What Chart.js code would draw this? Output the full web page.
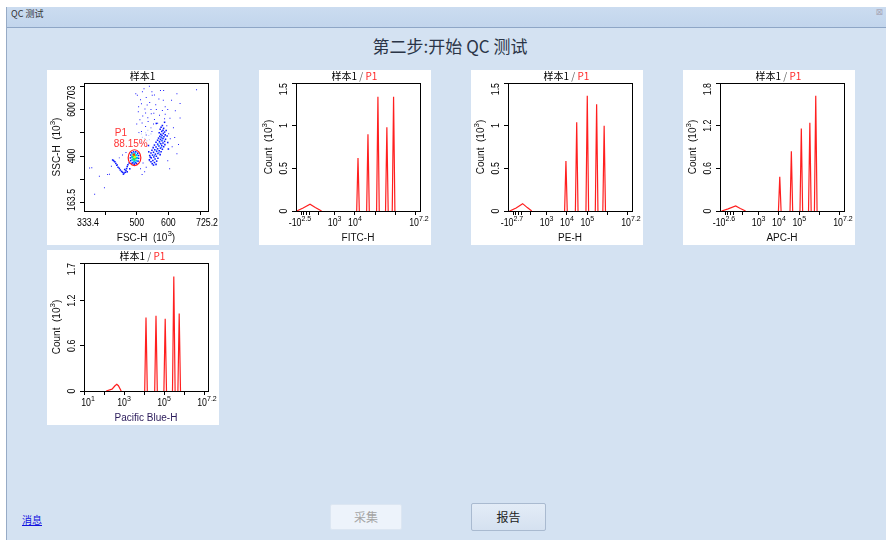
<!DOCTYPE html>
<html>
<head>
<meta charset="utf-8">
<script src="https://cdn.jsdelivr.net/npm/chart.js@4.4.1/dist/chart.umd.min.js"></script>
<style>
  body { margin: 0; width: 886px; height: 540px; background: #fff; position: relative; overflow: hidden; font-family: "Liberation Sans", "Noto Sans CJK SC", sans-serif; }
  #win { position: absolute; left: 6px; top: 7px; right: 0; bottom: 0; background: #d4e2f2; border-left: 1px solid #97abc6; }
  #bar { position: absolute; left: 0; right: 0; top: 0; height: 20px; background: linear-gradient(#cbdcf0, #c2d5ec); border-bottom: 1px solid #8ea6c6; }
  #bar .cap { position: absolute; left: 4px; top: 0; line-height: 20px; font: 9px "Noto Sans CJK SC"; color: #333; }
  #bar .x { position: absolute; right: 3px; top: 0; line-height: 20px; font: 9px "DejaVu Sans"; color: #aab; }
  #title { position: absolute; left: 450px; top: 35px; transform: translateX(-50%); font: 17px "Noto Sans CJK SC"; color: #2b3547; white-space: nowrap; line-height: 22px; }
  .panel { position: absolute; width: 172px; height: 175px; background: #fff; }
  .panel canvas { position: absolute; left: 0; top: 0; }
  .panel .t { position: absolute; left: 30px; width: 131px; top: 0; text-align: center; font: 10px "Noto Sans CJK SC"; line-height: 12px; color: #000; }
  .panel .t .s { color: #666; }
  .panel .t .g { color: #ff2a2a; }
  #msg { position: absolute; left: 22px; top: 512px; font: 10px "Noto Sans CJK SC"; color: #1010e0; text-decoration: underline; }
  .btn { position: absolute; box-sizing: border-box; text-align: center; font: 12px "Noto Sans CJK SC"; }
  #b1 { left: 330px; top: 504px; width: 72px; height: 26px; line-height: 24px; background: #edf3fb; border: 1px solid #dce6f2; color: #a4a4a4; border-radius: 2px; }
  #b2 { left: 471px; top: 503px; width: 75px; height: 28px; line-height: 26px; background: linear-gradient(#e3ecf7, #d5e1f0); border: 1px solid #a9bad0; color: #222; border-radius: 2px; }
</style>
</head>
<body>
<div id="win"><div id="bar"><span class="cap">QC 测试</span><span class="x">⊠</span></div></div>
<div id="title">第二步:开始 QC 测试</div>

<div class="panel" style="left:47px;top:70px"><canvas id="c0" width="172" height="175"></canvas><div class="t">样本1</div></div>
<div class="panel" style="left:259px;top:70px"><canvas id="c1" width="172" height="175"></canvas><div class="t">样本1 <span class="s">/</span> <span class="g">P1</span></div></div>
<div class="panel" style="left:471px;top:70px"><canvas id="c2" width="172" height="175"></canvas><div class="t">样本1 <span class="s">/</span> <span class="g">P1</span></div></div>
<div class="panel" style="left:683px;top:70px"><canvas id="c3" width="172" height="175"></canvas><div class="t">样本1 <span class="s">/</span> <span class="g">P1</span></div></div>
<div class="panel" style="left:47px;top:250px"><canvas id="c4" width="172" height="175"></canvas><div class="t">样本1 <span class="s">/</span> <span class="g">P1</span></div></div>

<div id="msg">消息</div>
<div class="btn" id="b1">采集</div>
<div class="btn" id="b2">报告</div>

<script>
// ---- scatter FSC-H / SSC-H (10^3) ----
const sctSparse = [
  [497,668],[523,689],[518,676],[530,652],[512,642],[541,630],[548,676],[556,662],[575,682],[585,682],
  [590,612],[627,668],[689,685],[637,626],[562,600],[526,602],[506,612],[546,582],[519,572],[556,557],
  [536,548],[510,556],[500,538],[528,527],[545,521],[566,541],[581,596],[572,575],[605,562],[637,563],
  [616,522],[601,496],[606,474],[627,410],[612,440],[598,380],[604,345],[515,505],[530,490],[548,505],
  [584,640],[540,700],[505,590],[502,661],[549,661],[533,619],[554,584],[517,542],[507,501],
  [560,620],[570,645],[515,625],[528,585],[588,560],[598,600],[610,640],[622,595],[595,530],[620,480],
  [632,450],[545,600],[535,565],[553,538],[590,580],
  [351,348],[358,350],[382,313],[398,264],[367,236],[408,320],[414,322],[429,375],[439,362],[420,356],
  [445,392],[455,404],[466,415],[520,370],[512,345],[530,352],[525,332],[540,380],[517,320]
];
const sctBlue = [
  // right cluster, upper column
  [581,531],[577,524],[585,519],[574,515],[583,511],[579,506],[588,503],[571,500],[584,497],[576,494],
  [590,491],[580,488],[573,485],[586,483],[578,479],[569,477],[583,475],[591,472],[575,471],[566,468],
  // right cluster, middle
  [580,466],[588,463],[572,462],[561,459],[583,456],[576,453],[566,451],[589,449],[556,447],[579,445],
  [570,443],[585,440],[561,439],[552,436],[575,434],[566,431],[581,429],[557,427],[548,425],[571,423],
  [563,420],[577,418],[553,416],[545,413],[567,411],[559,408],[574,406],[550,404],
  // right cluster, lower left
  [541,402],[562,399],[554,396],[546,392],[567,390],[558,387],[540,384],[551,381],[563,378],[545,375],
  [556,372],[549,367],[561,364],[553,361],[543,395],[538,418],
  [596,486],[593,510],[562,540],[598,458],[537,445],[600,430],[588,545],
  // tail below the P1 core
  [476,370],[472,362],[470,355],[468,346],[466,338],[464,330],[460,327],[455,330],[452,334],[448,340],
  [445,347],[441,352],[437,360],[434,368],[431,375],[427,380],[424,383],[458,322],[470,332],[478,345],
  [462,342],
  // P1 core rim
  [480,392],[481,404],[484,414],[490,418],[497,418],[503,412],[506,402],[506,390],[504,378],[499,368],
  [492,365],[485,369],[481,380],[488,372],[496,372]
];
const sctMid = [[577,482],[581,468],[572,457],[568,446],[578,438],[562,424],[570,414],[556,402]];
const sctPale = [[510,470],[518,480],[525,475],[532,465],[515,495],[528,500],[538,488],[522,455],[540,470],[508,500],[535,510],[545,495],[512,460]];
const sctCyan = [[485,396],[487,408],[494,412],[500,404],[501,392],[499,380],[492,376],[486,384]];
const sctGreen = [[489,398],[494,402],[496,392],[490,388],[493,384]];
const sctYellow = [[490,405],[494,396]];
const sctRed = [[491,406]];
const gateCenter = [493, 393];
const gateRadius = [20, 34];
const gateLabels = ['P1', '88.15%'];
const gateLabelAt = [[450, 501], [481, 456]];

// ---- histograms: x in decades (10^x), y in Count (10^3) ----
const fitcX = [1.13,1.45,1.79,2.05,2.36, 3.0, 4.085,4.15,4.215, 4.4, 4.575,4.64,4.705, 4.9, 5.065,5.13,5.195, 5.35, 5.505,5.57,5.635, 5.75, 5.835,5.90,5.965];
const fitcY = [0,0.035,0.08,0.04,0, null, 0,0.62,0, null, 0,0.90,0, null, 0,1.34,0, null, 0,0.98,0, null, 0,1.34,0];
const peX = [1.18,1.5,1.82,2.05,2.27, 3.0, 3.885,3.95,4.015, 4.2, 4.415,4.48,4.545, 4.7, 4.935,5.00,5.065, 5.2, 5.395,5.46,5.525, 5.6, 5.765,5.83,5.895];
const peY = [0,0.035,0.086,0.04,0, null, 0,0.585,0, null, 0,1.04,0, null, 0,1.35,0, null, 0,1.25,0, null, 0,1.0,0];
const apcX = [1.18,1.5,1.87,2.1,2.36, 3.0, 3.975,4.04,4.105, 4.3, 4.545,4.61,4.675, 4.85, 5.035,5.10,5.165, 5.3, 5.455,5.52,5.585, 5.65, 5.745,5.81,5.875];
const apcY = [0,0.03,0.07,0.035,0, null, 0,0.48,0, null, 0,0.84,0, null, 0,1.16,0, null, 0,1.24,0, null, 0,1.62,0];
const pbX = [2.11,2.4,2.55,2.64,2.72,2.86, 3.5, 4.035,4.10,4.165, 4.35, 4.535,4.60,4.665, 4.8, 4.995,5.06,5.125, 5.3, 5.425,5.49,5.555, 5.62, 5.695,5.76,5.825];
const pbY = [0,0.025,0.07,0.09,0.07,0, null, 0,0.975,0, null, 0,1.0,0, null, 0,0.96,0, null, 0,1.52,0, null, 0,1.03,0];

// axis ticks and labels
const logMinorTicks = [1.35,1.48,1.6,1.74,2.2,3,4,5,6,7];
const fitcXLab = [[1.1,'-10^2.5'],[3,'10^3'],[4,'10^4'],[7.2,'10^7.2']];
const peXLab = [[1.1,'-10^2.7'],[3,'10^3'],[4,'10^4'],[5,'10^5'],[7.2,'10^7.2']];
const apcXLab = [[1.1,'-10^2.6'],[3,'10^3'],[4,'10^4'],[5,'10^5'],[7.2,'10^7.2']];
const pbXLab = [[1,'10^1'],[3,'10^3'],[5,'10^5'],[7.2,'10^7.2']];
const count15 = [[0,'0'],[0.5,'0.5'],[1,'1'],[1.5,'1.5']];
const count18 = [[0,'0'],[0.6,'0.6'],[1.2,'1.2'],[1.8,'1.8']];
const count17 = [[0,'0'],[0.6,'0.6'],[1.2,'1.2'],[1.7,'1.7']];
const fscLab = [[333.4,'333.4'],[500,'500'],[600,'600'],[725.2,'725.2']];
const sscLab = [[163.5,'163.5'],[400,'400'],[600,'600'],[703,'703']];

const FONT = '"Liberation Sans", Arial, sans-serif';

function parts(s) {
  const out = []; const re = /\^([0-9.]+)/g; let last = 0, m;
  while ((m = re.exec(s))) {
    if (m.index > last) out.push([s.slice(last, m.index), 0]);
    out.push([m[1], 1]); last = re.lastIndex;
  }
  if (last < s.length) out.push([s.slice(last), 0]);
  return out;
}

// draws text with ^superscripts; sx narrows the glyphs (tick labels are condensed)
function rich(ctx, s, x, y, size, align, rot, color, sx) {
  const p = parts(s), sup = Math.round(size * 0.75);
  ctx.save();
  ctx.translate(x, y);
  if (rot) ctx.rotate(rot);
  if (sx) ctx.scale(sx, 1);
  ctx.fillStyle = color; ctx.textAlign = 'left'; ctx.textBaseline = 'alphabetic';
  let w = 0;
  p.forEach(([t, s2]) => { ctx.font = (s2 ? sup : size) + 'px ' + FONT; w += ctx.measureText(t).width; });
  let cx = align === 'left' ? 0 : align === 'right' ? -w : -w / 2;
  const base = size * 0.36;
  p.forEach(([t, s2]) => {
    ctx.font = (s2 ? sup : size) + 'px ' + FONT;
    ctx.fillText(t, cx, s2 ? base - size * 0.45 : base);
    cx += ctx.measureText(t).width;
  });
  ctx.restore();
}

Chart.register({
  id: 'flowAxes',
  afterDatasetsDraw(chart, args, o) {
    if (!o || !o.xLab) return;
    const { ctx, chartArea: a, scales: { x, y } } = chart;
    ctx.save();
    ctx.strokeStyle = '#000'; ctx.lineWidth = 1;
    ctx.strokeRect(Math.round(a.left) + 0.5, Math.round(a.top) + 0.5, Math.round(a.right - a.left), Math.round(a.bottom - a.top));

    if (o.gate) {
      const cx = x.getPixelForValue(gateCenter[0]), cy = y.getPixelForValue(gateCenter[1]);
      const rx = Math.abs(x.getPixelForValue(gateCenter[0] + gateRadius[0]) - cx);
      const ry = Math.abs(y.getPixelForValue(gateCenter[1] + gateRadius[1]) - cy);
      ctx.beginPath(); ctx.ellipse(cx, cy, rx, ry, 0, 0, Math.PI * 2);
      ctx.strokeStyle = '#ff2020'; ctx.lineWidth = 1.2; ctx.stroke();
      gateLabels.forEach((t, i) => {
        rich(ctx, t, x.getPixelForValue(gateLabelAt[i][0]), y.getPixelForValue(gateLabelAt[i][1]), 10, 'center', 0, '#ff3535');
      });
    }

    const n = o.xLab.length;
    o.xLab.forEach(([v, t], i) => {
      const px = x.getPixelForValue(v) + (i === 0 ? 4 : i === n - 1 ? -1 : 0);
      rich(ctx, t, px, a.bottom + 11, 10, 'center', 0, '#000', 0.88);
    });
    const m = o.yLab.length;
    o.yLab.forEach(([v, t], i) => {
      const al = i === m - 1 ? 'right' : (i === 0 ? o.yFirst : 'center');
      rich(ctx, t, a.left - 13, y.getPixelForValue(v), 10, al, -Math.PI / 2, '#000', 0.88);
    });
    rich(ctx, o.xTitle, (a.left + a.right) / 2, a.bottom + 26, 10, 'center', 0, o.xTitleColor || '#111');
    rich(ctx, o.yTitle, a.left - 28, (a.top + a.bottom) / 2, 10, 'center', -Math.PI / 2, '#111');
    ctx.restore();
  }
});

function options(xMin, xMax, xTicks, yMin, yMax, yTicks, axes) {
  return {
    responsive: false, animation: false, devicePixelRatio: 1,
    layout: { padding: { left: 33, top: 13, right: 11, bottom: 30 } },
    plugins: { legend: { display: false }, tooltip: { enabled: false }, flowAxes: axes },
    scales: {
      x: {
        type: 'linear', min: xMin, max: xMax,
        afterBuildTicks: s => { s.ticks = xTicks.map(v => ({ value: v })); },
        afterFit: s => { s.height = 4; },
        ticks: { display: false },
        grid: { drawOnChartArea: false, tickLength: 4, color: '#000' },
        border: { color: '#000' }
      },
      y: {
        type: 'linear', min: yMin, max: yMax,
        afterBuildTicks: s => { s.ticks = yTicks.map(v => ({ value: v })); },
        afterFit: s => { s.width = 4; },
        ticks: { display: false },
        grid: { drawOnChartArea: false, tickLength: 4, color: '#000' },
        border: { color: '#000' }
      }
    }
  };
}

const pts = arr => arr.map(([x, y]) => ({ x, y }));
const dot = (arr, color, r) => ({ data: pts(arr), backgroundColor: color, borderWidth: 0, pointStyle: 'rect', pointRadius: r });

new Chart(document.getElementById('c0'), {
  type: 'scatter',
  data: {
    datasets: [
      dot(sctRed, '#ff2000', 1.5),
      dot(sctYellow, '#f0f000', 1.5),
      dot(sctGreen, '#20e060', 1.5),
      dot(sctCyan, '#00c0ff', 1.5),
      dot(sctMid, '#3c8cff', 1.0),
      dot(sctPale, '#c0ccff', 0.8),
      dot(sctBlue, '#0a18ff', 1.1),
      dot(sctSparse, '#1a1aff', 0.7)
    ]
  },
  options: options(333.4, 725.2, [400, 500, 600, 700], 163.5, 714, [200, 300, 400, 500, 600, 700],
    { xLab: fscLab, yLab: sscLab, yFirst: 'left', xTitle: 'FSC-H  (10^3)', yTitle: 'SSC-H  (10^3)', gate: true })
});

function hist(id, xs, ys, xMin, xTicks, yMax, yLab, xLab, title, titleColor) {
  new Chart(document.getElementById(id), {
    type: 'line',
    data: {
      datasets: [{
        data: xs.map((x, i) => ({ x, y: ys[i] })),
        borderColor: '#ff1f1f', borderWidth: 1.2, pointRadius: 0, spanGaps: false, tension: 0, fill: false
      }]
    },
    options: options(xMin, 7.2, xTicks, 0, yMax, yLab.map(d => d[0]),
      { xLab, yLab, yFirst: 'center', xTitle: title, xTitleColor: titleColor, yTitle: 'Count  (10^3)' })
  });
}

hist('c1', fitcX, fitcY, 1.1, logMinorTicks, 1.5, count15, fitcXLab, 'FITC-H');
hist('c2', peX, peY, 1.1, logMinorTicks, 1.5, count15, peXLab, 'PE-H');
hist('c3', apcX, apcY, 1.1, logMinorTicks, 1.8, count18, apcXLab, 'APC-H');
hist('c4', pbX, pbY, 1, [1, 2, 3, 4, 5, 6, 7], 1.7, count17, pbXLab, 'Pacific Blue-H', '#2a1a5a');
</script>
</body>
</html>
